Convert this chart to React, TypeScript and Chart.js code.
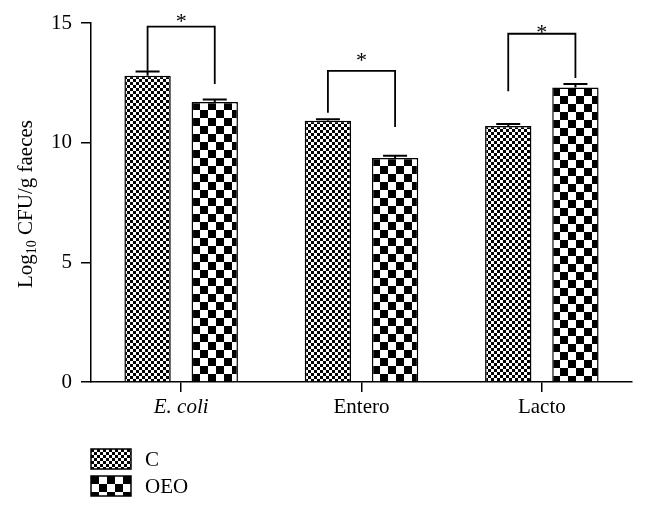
import React, { useEffect, useRef } from 'react';
import { Chart, registerables } from 'chart.js';

Chart.register(...registerables);

const categories = ['E. coli', 'Entero', 'Lacto'];
const seriesNames = ['C', 'OEO'];
const valuesC = [12.8, 10.92, 10.7];
const valuesOEO = [11.7, 9.36, 12.3];
const errorsC = [0.17, 0.06, 0.08];
const errorsOEO = [0.1, 0.09, 0.15];
const bracketTop = [14.85, 13.0, 14.55];
const bracketLeftBottom = [13.0, 11.25, 12.15];
const bracketRightBottom = [12.45, 10.65, 12.7];
const starLevel = [15.25, 13.63, 14.79];
const starLabels = ['*', '*', '*'];
const yTicks = [0, 5, 10, 15];
const yTitleMain = 'Log';
const yTitleSub = '10';
const yTitleRest = ' CFU/g faeces';

const FONT = '"Liberation Serif", "Times New Roman", serif';
const CELLS = [3, 8];

function makeChecker(cell: number, ox = 0, oy = 0) {
  const c = document.createElement('canvas');
  c.width = cell * 2;
  c.height = cell * 2;
  const g = c.getContext('2d')!;
  g.fillStyle = '#fff';
  g.fillRect(0, 0, cell * 2, cell * 2);
  g.fillStyle = '#000';
  g.fillRect(0, 0, cell, cell);
  g.fillRect(cell, cell, cell, cell);
  const p = g.createPattern(c, 'repeat')!;
  if ((ox || oy) && (p as any).setTransform) {
    p.setTransform(new DOMMatrix().translate(ox, oy));
  }
  return p;
}

export default function App() {
  const ref = useRef<HTMLCanvasElement | null>(null);

  useEffect(() => {
    if (!ref.current) return;
    const basePatterns = CELLS.map((c) => makeChecker(c));
    const errs = [errorsC, errorsOEO];

    const overlay = {
      id: 'overlay',
      beforeDatasetsDraw(chart: any) {
        chart.data.datasets.forEach((_ds: any, di: number) => {
          const meta = chart.getDatasetMeta(di);
          meta.data.forEach((bar: any) => {
            const left = Math.round(bar.x - bar.width / 2);
            const top = Math.round(bar.y);
            bar.options = Object.assign({}, bar.options, {
              backgroundColor: makeChecker(CELLS[di], left, top),
            });
          });
        });
      },
      afterDatasetsDraw(chart: any) {
        const ctx = chart.ctx;
        const y = chart.scales.y;
        ctx.save();
        ctx.strokeStyle = '#000';
        chart.data.datasets.forEach((ds: any, di: number) => {
          const meta = chart.getDatasetMeta(di);
          meta.data.forEach((bar: any, i: number) => {
            const v = ds.data[i];
            const top = y.getPixelForValue(v + errs[di][i]);
            const base = y.getPixelForValue(v);
            ctx.lineWidth = 2;
            ctx.beginPath();
            ctx.moveTo(bar.x, base);
            ctx.lineTo(bar.x, top);
            ctx.moveTo(bar.x - 12, top);
            ctx.lineTo(bar.x + 12, top);
            ctx.stroke();
          });
        });
        const m0 = chart.getDatasetMeta(0);
        const m1 = chart.getDatasetMeta(1);
        categories.forEach((_, i) => {
          const xl = m0.data[i].x;
          const xr = m1.data[i].x;
          const yt = y.getPixelForValue(bracketTop[i]);
          ctx.lineWidth = 1.8;
          ctx.beginPath();
          ctx.moveTo(xl, y.getPixelForValue(bracketLeftBottom[i]));
          ctx.lineTo(xl, yt);
          ctx.lineTo(xr, yt);
          ctx.lineTo(xr, y.getPixelForValue(bracketRightBottom[i]));
          ctx.stroke();
          ctx.fillStyle = '#000';
          ctx.font = `22px ${FONT}`;
          ctx.textAlign = 'center';
          ctx.textBaseline = 'alphabetic';
          ctx.fillText(starLabels[i], (xl + xr) / 2, y.getPixelForValue(starLevel[i]) + 11);
        });
        ctx.restore();
      },
      afterDraw(chart: any) {
        const ctx = chart.ctx;
        ctx.save();
        const big = `21px ${FONT}`;
        const small = `14px ${FONT}`;
        ctx.font = big;
        const w1 = ctx.measureText(yTitleMain).width;
        const w3 = ctx.measureText(yTitleRest).width;
        ctx.font = small;
        const w2 = ctx.measureText(yTitleSub).width;
        const total = w1 + w2 + w3;
        const cy = 204;
        ctx.translate(32, cy);
        ctx.rotate(-Math.PI / 2);
        ctx.fillStyle = '#000';
        ctx.textAlign = 'left';
        ctx.textBaseline = 'alphabetic';
        let x = -total / 2;
        ctx.font = big;
        ctx.fillText(yTitleMain, x, 0);
        x += w1;
        ctx.font = small;
        ctx.fillText(yTitleSub, x, 4);
        x += w2;
        ctx.font = big;
        ctx.fillText(yTitleRest, x, 0);
        ctx.restore();

        ctx.save();
        const left = chart.chartArea.left;
        const sw = 40, sh = 20;
        chart.data.datasets.forEach((ds: any, di: number) => {
          const top = 449 + di * 27;
          ctx.fillStyle = makeChecker(CELLS[di], left, top);
          ctx.fillRect(left, top, sw, sh);
          ctx.strokeStyle = '#000';
          ctx.lineWidth = 1.5;
          ctx.strokeRect(left, top, sw, sh);
          ctx.fillStyle = '#000';
          ctx.font = `21px ${FONT}`;
          ctx.textAlign = 'left';
          ctx.textBaseline = 'middle';
          ctx.fillText(ds.label, left + 54, top + sh / 2 + 1);
        });
        ctx.restore();
      },
    };

    const chart = new Chart(ref.current, {
      type: 'bar',
      data: {
        labels: categories,
        datasets: [
          {
            label: seriesNames[0],
            data: valuesC,
            backgroundColor: basePatterns[0] as any,
            borderColor: '#000',
            borderWidth: 1.5,
            barPercentage: 0.69,
            categoryPercentage: 0.745,
          },
          {
            label: seriesNames[1],
            data: valuesOEO,
            backgroundColor: basePatterns[1] as any,
            borderColor: '#000',
            borderWidth: 1.5,
            barPercentage: 0.69,
            categoryPercentage: 0.745,
          },
        ],
      },
      options: {
        responsive: false,
        animation: false,
        layout: { padding: { top: 23, right: 14, left: 0, bottom: 0 } },
        plugins: { legend: { display: false }, tooltip: { enabled: false } },
        scales: {
          x: {
            type: 'category',
            offset: true,
            grid: {
              offset: false,
              drawOnChartArea: false,
              drawTicks: true,
              tickLength: 10,
              color: '#000',
              lineWidth: 1.5,
            },
            border: { display: true, color: '#000', width: 1.5 },
            ticks: {
              color: '#000',
              padding: 3,
              font: (c: any) => ({ family: FONT, size: 21, style: c.index === 0 ? 'italic' : 'normal' }),
            },
            afterFit: (s: any) => {
              s.height = 128;
            },
          },
          y: {
            min: 0,
            max: 15,
            afterBuildTicks: (s: any) => {
              s.ticks = yTicks.map((v) => ({ value: v }));
            },
            grid: {
              drawOnChartArea: false,
              drawTicks: true,
              tickLength: 10,
              color: '#000',
              lineWidth: 1.5,
            },
            border: { display: true, color: '#000', width: 1.5 },
            ticks: {
              color: '#000',
              padding: 9,
              font: { family: FONT, size: 21 },
            },
            afterFit: (s: any) => {
              s.width = 91;
            },
          },
        },
      },
      plugins: [overlay],
    });
    return () => chart.destroy();
  }, []);

  return (
    <div style={{ position: 'absolute', left: 0, top: 0, width: 646, height: 510, background: '#fff' }}>
      <canvas ref={ref} width={646} height={510} style={{ width: 646, height: 510, display: 'block' }} />
    </div>
  );
}
